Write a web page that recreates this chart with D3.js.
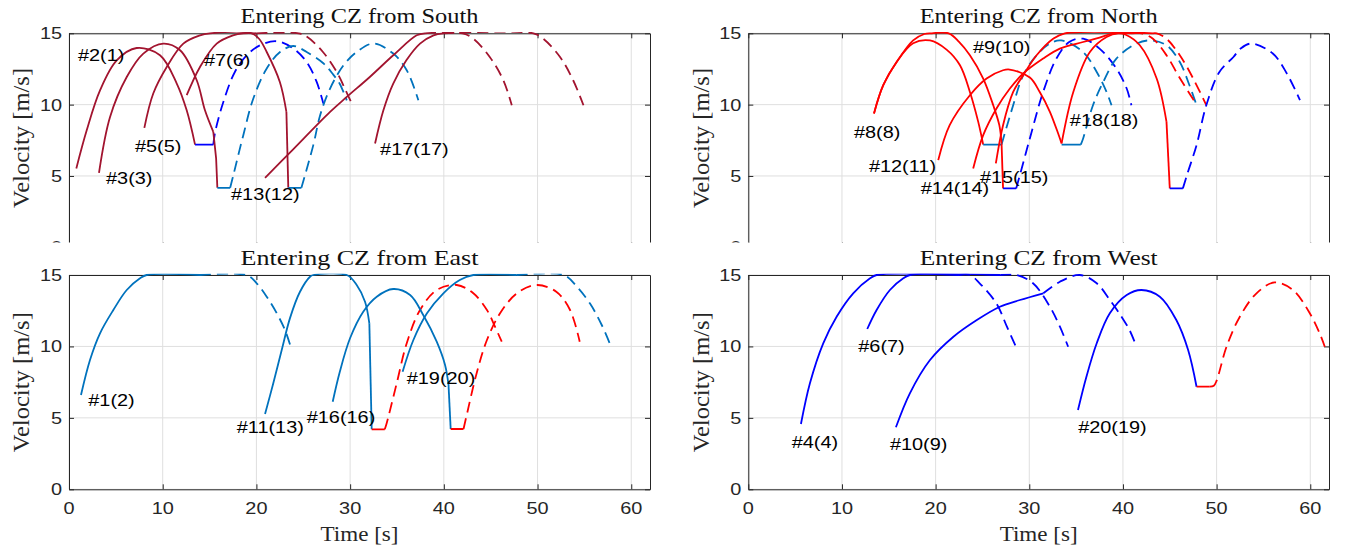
<!DOCTYPE html>
<html><head><meta charset="utf-8">
<script src="https://cdn.jsdelivr.net/npm/d3@7"></script>
<style>body{margin:0;background:#fff}svg{display:block}</style>
</head><body>
<svg id="chart" width="1347" height="550"></svg>
<script>
// ---------------- DATA (time [s], velocity [m/s]) ----------------
const xTickValues = [0, 10, 20, 30, 40, 50, 60];
const yTickValues = [0, 5, 10, 15];
const panelTitles = ["Entering CZ from South", "Entering CZ from North", "Entering CZ from East", "Entering CZ from West"];
const xAxisLabel = "Time [s]";
const yAxisLabel = "Velocity [m/s]";

// South
const s2_solid = [[0.78,5.53],[1.89,8.2],[3.31,11.0],[5.09,13.1],[7.22,13.97],[9.71,13.46],[11.5,11.48],[12.56,9.6],[13.45,7.2]];
const s2_flat = [[13.45,7.2],[15.4,7.2]];
const s2_dash = [[15.4,7.2],[15.6,8.09],[16.47,10.19],[17.7,12.29],[18.97,13.46],[20.38,14.16],[22.17,14.44],[23.94,13.93],[25.36,12.99],[26.43,11.59],[27.14,10.08]];
const s3_solid = [[3.2,5.22],[4.38,9.14],[6.16,11.94],[7.93,13.58],[10.07,14.28],[11.85,13.81],[13.63,11.71],[14.51,9.6],[15.4,8.09]];
const s3_drop = [[15.4,8.09],[15.7,6.23],[15.83,4.17]];
const s3_flat = [[15.83,4.17],[17.2,4.17]];
const s3_dash = [[17.2,4.17],[17.54,5.06],[18.6,7.86],[19.67,10.43],[21.1,12.53],[22.52,13.69],[23.94,14.11],[25.36,13.69],[27.14,12.9],[28.2,12.1],[28.86,11.5],[29.64,10.3]];
const s5_solid = [[8.04,8.37],[8.99,10.78],[10.43,12.64],[12.2,14.28],[13.98,14.86],[15.05,15],[19.5,15],[20.3,14.6],[21.1,13.69],[22.5,11.59],[23.2,9.49]];
const s5_drop = [[23.2,9.49],[23.4,4.17]];
const s5_flat = [[23.4,4.17],[24.8,4.17]];
const s5_dash = [[24.8,4.17],[26.07,7.16],[26.8,9.26],[27.86,11.13],[29.3,12.76],[30.7,13.69],[32.48,14.28],[34.6,13.58],[36.04,12.41],[37.28,10.31]];
const s7_solid = [[12.56,10.66],[13.98,12.64],[15.76,14.28],[17.5,14.86],[18.6,15],[20,15]];
const s7_dash = [[20,15],[24.5,15],[25.4,14.75],[27.1,13.69],[28.57,12.29],[29.6,10.89],[30.17,10.08]];
const s13_solid = [[20.92,4.87],[23.6,6.65],[27.86,9.49],[29.64,10.54],[32.1,11.94],[34.6,13.46],[37.1,14.86],[38,15]];
const s13_dash = [[38,15],[42,15],[43.15,14.62],[44.9,13.34],[46.35,11.71],[47.25,9.96]];
const s17_solid = [[32.66,7.28],[33.55,9.61],[34.6,11.48],[36.0,13.11],[37.46,14.28],[38.9,14.86],[39.95,15]];
const s17_dash = [[39.95,15],[49.55,15],[50.6,14.62],[52.4,13.34],[53.8,11.71],[54.9,9.96]];

// North
const n8_solid = [[13.42,9.38],[14.41,11.36],[15.84,12.99],[17.6,14.3],[19.4,14.5],[21.2,13.84],[22.6,12.76],[23.66,10.89],[24.55,8.79],[25.08,7.2]];
const n8_flat = [[25.08,7.2],[27.04,7.2]];
const n8_dash = [[27.04,7.2],[28.28,9.96],[29.35,12.06],[30.78,13.46],[32.2,14.28],[33.4,14.5],[35.75,13.69],[37.2,12.29],[38.25,10.89],[38.78,9.96]];
const n9_solid = [[13.42,9.38],[14.41,11.36],[15.84,12.99],[17.6,14.5],[18.8,14.95],[19.6,15],[21.4,15],[22.5,14.4],[23.66,13.46],[25.08,11.83],[26.15,9.96],[26.8,8.56],[27.04,7.28]];
const n9_drop = [[27.04,7.28],[27.2,4.13]];
const n9_flat = [[27.2,4.13],[28.6,4.13]];
const n9_dash = [[28.6,4.13],[28.8,4.59],[30.06,7.63],[31.48,10.89],[32.9,13.23],[34.3,14.4],[35.75,14.62],[37.5,13.93],[39.3,12.53],[40.4,11.13],[40.9,9.96]];
const n12_solid = [[20.28,6.11],[21.5,8.56],[23.66,10.66],[25.44,11.83],[27.2,12.41],[27.9,12.46],[30.06,11.9],[31.1,10.9],[32.2,9.5],[33.45,7.28]];
const n12_flat = [[33.45,7.2],[35.5,7.2]];
const n12_dash = [[35.5,7.2],[35.75,7.63],[36.8,9.96],[37.9,11.59],[39.3,13.23],[41.45,14.28],[42.87,14.5],[44.65,14.16],[46.07,12.99],[47.1,11.36],[47.86,9.96]];
const n14_solid = [[24.01,5.53],[25.08,7.86],[26.5,9.73],[27.93,11.13],[29.35,12.18],[31.48,13.23],[33.26,13.93],[35.75,14.39],[37.5,14.7],[39,15],[41,15]];
const n14_dash = [[41,15],[42,15],[43.2,14.62],[44.65,13.46],[46.1,11.83],[47.9,9.96]];
const n15_solid = [[26.43,5.88],[27.2,8.56],[28.28,10.89],[29.35,12.06],[30.78,13.46],[32.55,14.62],[33.8,15],[43.2,15]];
const n15_dash = [[43.2,15],[43.6,15],[44.65,14.62],[46.07,13.46],[47.5,11.83],[48.9,9.96]];
const n18_solid = [[33.45,7.28],[34.7,10.89],[36.47,13.69],[38.25,14.74],[39.5,15.0],[40.3,14.9],[41.8,14.16],[43.6,11.83],[44.65,8.79]];
const n18_drop = [[44.65,8.79],[45.0,4.13]];
const n18_flat = [[45.0,4.13],[46.4,4.13]];
const n18_dash = [[46.4,4.13],[46.9,5.2],[47.86,7.16],[48.9,9.96],[50.3,12.29],[51.8,13.34],[52.6,13.95],[53.7,14.28],[56.0,13.58],[57.5,12.18],[58.9,10.31]];

// East
const e1_solid = [[1.28,6.6],[2.24,9.05],[3.31,10.92],[4.73,12.55],[6.16,13.95],[7.58,14.77],[8.29,15],[13.98,15]];
const e1_dash = [[13.98,15],[18.96,15],[20.03,14.42],[21.1,13.48],[22.17,12.32],[23.05,11.15],[23.66,9.98]];
const e11_solid = [[20.92,5.27],[21.8,7.42],[22.7,9.75],[23.59,12.0],[24.65,13.83],[25.72,14.88],[26.07,15],[29.64,15],[30.7,14.3],[31.59,13.13],[32.05,11.62]];
const e11_drop = [[32.05,11.62],[32.3,4.2]];
const e11_flat = [[32.3,4.2],[33.7,4.2]];
const e11_dash = [[33.7,4.2],[33.9,4.62],[34.97,7.42],[36.04,10.22],[37.46,12.55],[39.24,13.95],[41.38,14.3],[43.15,13.72],[44.6,12.55],[45.46,11.38],[46.18,10.33]];
const e16_solid = [[28.14,6.13],[28.9,8.23],[29.99,10.57],[31.4,12.43],[32.84,13.48],[34.6,14.02],[36.4,13.6],[37.8,12.2],[39.24,10.33],[40.13,8.7],[40.5,7.3]];
const e16_drop = [[40.5,7.3],[40.73,4.22]];
const e16_flat = [[40.73,4.22],[42.1,4.22]];
const e16_dash = [[42.1,4.22],[42.4,5.08],[43.5,8.12],[44.6,10.45],[46.0,12.32],[47.8,13.72],[49.9,14.3],[52.0,13.83],[53.47,12.55],[54.5,10.33]];
const e19_solid = [[35.6,8.23],[36.75,10.45],[38.2,12.32],[39.95,13.72],[41.7,14.65],[43.15,15],[47.78,15]];
const e19_dash = [[47.78,15],[52.8,15],[54.2,14.18],[55.6,13.0],[56.85,11.5],[57.85,9.98]];

// West
const w4_solid = [[5.62,4.57],[6.58,7.42],[8.0,10.22],[9.43,12.08],[11.2,13.72],[13.0,14.77],[13.7,15],[22.5,15]];
const w4_dash = [[22.5,15],[23.66,15],[24.7,14.42],[26.5,13.0],[27.6,11.4],[28.57,9.98]];
const w6_solid = [[12.7,11.22],[13.7,12.55],[15.12,13.95],[16.55,14.77],[17.26,15],[26.9,15]];
const w6_dash = [[26.9,15],[28.6,15],[30.4,14.42],[32.2,12.78],[33.27,11.38],[34.15,9.98]];
const w10_solid = [[15.76,4.34],[17.25,6.72],[19.4,9.05],[21.9,10.68],[24.4,11.85],[26.86,12.78],[29.0,13.25],[31.5,13.72]];
const w10_dash = [[31.5,13.72],[33.27,14.53],[35.4,15],[37.2,14.42],[38.6,13.25],[39.85,12.08],[40.7,11.15],[41.45,9.98]];
const w20_solid = [[35.2,5.55],[36.1,7.88],[37.2,10.22],[38.6,12.32],[40.4,13.6],[41.98,13.95],[43.94,13.48],[45.7,11.85],[46.96,9.75],[47.86,7.18]];
const w20_flat = [[47.86,7.18],[49.27,7.18]];
const w20_dash = [[49.27,7.18],[49.7,7.25],[50.0,7.6],[51.06,9.98],[52.48,12.08],[54.26,13.72],[56.2,14.48],[58.16,13.95],[59.95,12.32],[61.0,10.92],[61.55,9.98]];

// Vehicle labels: [text, time, velocity]
const labelsSouth = [["#2(1)",0.96,13.04],["#3(3)",3.95,4.43],["#5(5)",7.04,6.67],["#7(6)",14.4,12.69],["#13(12)",17.29,3.31],["#17(17)",33.2,6.46]];
const labelsNorth = [["#8(8)",11.28,7.65],["#9(10)",23.98,13.6],["#12(11)",12.88,5.27],["#14(14)",18.4,3.76],["#15(15)",24.73,4.5],["#18(18)",34.33,8.48]];
const labelsEast = [["#1(2)",2.06,5.83],["#11(13)",17.9,3.94],["#16(16)",25.37,4.64],["#19(20)",36.04,7.37]];
const labelsWest = [["#4(4)",4.63,2.89],["#6(7)",11.74,9.61],["#10(9)",15.12,2.75],["#20(19)",35.22,3.94]];

// ---------------- STYLE / LAYOUT ----------------
const COLORS = {darkred:"#A2142F", lightblue:"#0072BD", blue:"#0000FF", red:"#FF0000"};
const SX = 1.17;
const panels = [
  {title:panelTitles[0], x0:69, x1:650, yTop:33.3, yZero:247.3, clipBottom:242.5, showX:false, titleY:23, labels:labelsSouth,
   traces:[[s2_solid,"darkred",0,1],[s2_flat,"blue",0,0],[s2_dash,"blue",1,1],
           [s3_solid,"darkred",0,1],[s3_drop,"darkred",0,0],[s3_flat,"lightblue",0,0],[s3_dash,"lightblue",1,1],
           [s5_solid,"darkred",0,1],[s5_drop,"darkred",0,0],[s5_flat,"lightblue",0,0],[s5_dash,"lightblue",1,1],
           [s7_solid,"darkred",0,1],[s7_dash,"darkred",1,1],
           [s13_solid,"darkred",0,1],[s13_dash,"darkred",1,1],
           [s17_solid,"darkred",0,1],[s17_dash,"darkred",1,1]]},
  {title:panelTitles[1], x0:748.3, x1:1329, yTop:33.3, yZero:247.3, clipBottom:242.5, showX:false, titleY:23, labels:labelsNorth,
   traces:[[n8_solid,"red",0,1],[n8_flat,"lightblue",0,0],[n8_dash,"lightblue",1,1],
           [n9_solid,"red",0,1],[n9_drop,"red",0,0],[n9_flat,"blue",0,0],[n9_dash,"blue",1,1],
           [n12_solid,"red",0,1],[n12_flat,"lightblue",0,0],[n12_dash,"lightblue",1,1],
           [n14_solid,"red",0,1],[n14_dash,"red",1,1],
           [n15_solid,"red",0,1],[n15_dash,"red",1,1],
           [n18_solid,"red",0,1],[n18_drop,"red",0,0],[n18_flat,"blue",0,0],[n18_dash,"blue",1,1]]},
  {title:panelTitles[2], x0:69, x1:650, yTop:275, yZero:489.3, clipBottom:489.3, showX:true, titleY:265, labels:labelsEast,
   traces:[[e1_solid,"lightblue",0,1],[e1_dash,"lightblue",1,1],
           [e11_solid,"lightblue",0,1],[e11_drop,"lightblue",0,0],[e11_flat,"red",0,0],[e11_dash,"red",1,1],
           [e16_solid,"lightblue",0,1],[e16_drop,"lightblue",0,0],[e16_flat,"red",0,0],[e16_dash,"red",1,1],
           [e19_solid,"lightblue",0,1],[e19_dash,"lightblue",1,1]]},
  {title:panelTitles[3], x0:748.3, x1:1329, yTop:275, yZero:489.3, clipBottom:489.3, showX:true, titleY:265, labels:labelsWest,
   traces:[[w4_solid,"blue",0,1],[w4_dash,"blue",1,1],
           [w6_solid,"blue",0,1],[w6_dash,"blue",1,1],
           [w10_solid,"blue",0,1],[w10_dash,"blue",1,1],
           [w20_solid,"blue",0,1],[w20_flat,"red",0,0],[w20_dash,"red",1,1]]}
];

const svg = d3.select("#chart");
const AX = "#262626";

function sansText(g, x, y, s, anchor, fill) {
  return g.append("text").attr("transform", `translate(${x},${y}) scale(${SX},1)`)
    .attr("text-anchor", anchor).attr("font-family", "'Liberation Sans', Arial, sans-serif")
    .attr("font-size", 17).attr("fill", fill || AX).text(s);
}

function drawPanel(p, i) {
  const x = d3.scaleLinear().domain([0, 62]).range([p.x0, p.x1]);
  const y = d3.scaleLinear().domain([0, 15]).range([p.yZero, p.yTop]);
  const g = svg.append("g");

  // grid
  g.selectAll(".gx").data(xTickValues).join("line")
    .attr("x1", d => x(d)).attr("x2", d => x(d)).attr("y1", p.yTop).attr("y2", p.yZero)
    .attr("stroke", "#dfdfdf").attr("stroke-width", 1);
  g.selectAll(".gy").data(yTickValues).join("line")
    .attr("x1", p.x0).attr("x2", p.x1).attr("y1", d => y(d)).attr("y2", d => y(d))
    .attr("stroke", "#dfdfdf").attr("stroke-width", 1);

  // axes (ticks inward, box)
  const axes = [
    g.append("g").attr("transform", `translate(0,${p.yZero})`).call(d3.axisBottom(x).tickValues(xTickValues).tickSize(-5).tickSizeOuter(0).tickFormat("")),
    g.append("g").attr("transform", `translate(0,${p.yTop})`).call(d3.axisTop(x).tickValues(xTickValues).tickSize(-5).tickSizeOuter(0).tickFormat("")),
    g.append("g").attr("transform", `translate(${p.x0},0)`).call(d3.axisLeft(y).tickValues(yTickValues).tickSize(-5).tickSizeOuter(0).tickFormat("")),
    g.append("g").attr("transform", `translate(${p.x1},0)`).call(d3.axisRight(y).tickValues(yTickValues).tickSize(-5).tickSizeOuter(0).tickFormat(""))
  ];
  axes.forEach(a => { a.selectAll("path,line").attr("stroke", AX).attr("stroke-width", 1); });

  // tick labels
  yTickValues.forEach(v => sansText(g, p.x0 - 7, y(v) + 6, String(v), "end"));
  if (p.showX) xTickValues.forEach(t => sansText(g, x(t), p.yZero + 25, String(t), "middle"));

  // clip (a little above the top edge so lines at 15 m/s stay visible over the box)
  const cid = "clip" + i;
  svg.append("clipPath").attr("id", cid).append("rect")
    .attr("x", p.x0).attr("y", p.yTop - 1.3).attr("width", p.x1 - p.x0).attr("height", p.clipBottom - p.yTop + 1.3);

  const smooth = d3.line().x(d => x(d[0])).y(d => y(d[1])).curve(d3.curveCatmullRom.alpha(0.5));
  const straight = d3.line().x(d => x(d[0])).y(d => y(d[1]));
  const lg = g.append("g").attr("clip-path", `url(#${cid})`);
  p.traces.forEach(([pts, col, dashed, isSmooth]) => {
    lg.append("path").attr("d", (isSmooth ? smooth : straight)(pts))
      .attr("fill", "none").attr("stroke", COLORS[col]).attr("stroke-width", 1.8)
      .attr("stroke-linejoin", "round")
      .attr("stroke-dasharray", dashed ? "11,6" : null);
  });

  // vehicle labels
  p.labels.forEach(([s, t, v]) => sansText(g, x(t), y(v), s, "start", "#000"));

  // titles and axis labels
  const cx = (p.x0 + p.x1) / 2;
  g.append("text").attr("x", cx).attr("y", p.titleY).attr("text-anchor", "middle")
    .attr("font-family", "'Liberation Serif', 'Times New Roman', serif").attr("font-size", 21)
    .attr("textLength", 238).attr("lengthAdjust", "spacingAndGlyphs").attr("fill", "#111").text(p.title);
  const yl = (p.x0 < 100) ? 29 : 709;
  const ycen = (p.yTop + p.clipBottom) / 2;
  g.append("text").attr("transform", `translate(${yl},${ycen}) scale(1.1,1) rotate(-90)`).attr("text-anchor", "middle")
    .attr("font-family", "'Liberation Serif', 'Times New Roman', serif").attr("font-size", 21)
    .attr("textLength", 140).attr("lengthAdjust", "spacingAndGlyphs").attr("fill", AX).text(yAxisLabel);
  if (p.showX) {
    g.append("text").attr("x", cx).attr("y", 541).attr("text-anchor", "middle")
      .attr("font-family", "'Liberation Serif', 'Times New Roman', serif").attr("font-size", 21)
      .attr("textLength", 78).attr("lengthAdjust", "spacingAndGlyphs").attr("fill", AX).text(xAxisLabel);
  }
}

drawPanel(panels[0], 0);
drawPanel(panels[1], 1);
// bottom panels overlap the lower edge of the upper axes
svg.append("rect").attr("x", 0).attr("y", 242.5).attr("width", 1347).attr("height", 22).attr("fill", "#fff");
drawPanel(panels[2], 2);
drawPanel(panels[3], 3);
</script>
</body></html>
